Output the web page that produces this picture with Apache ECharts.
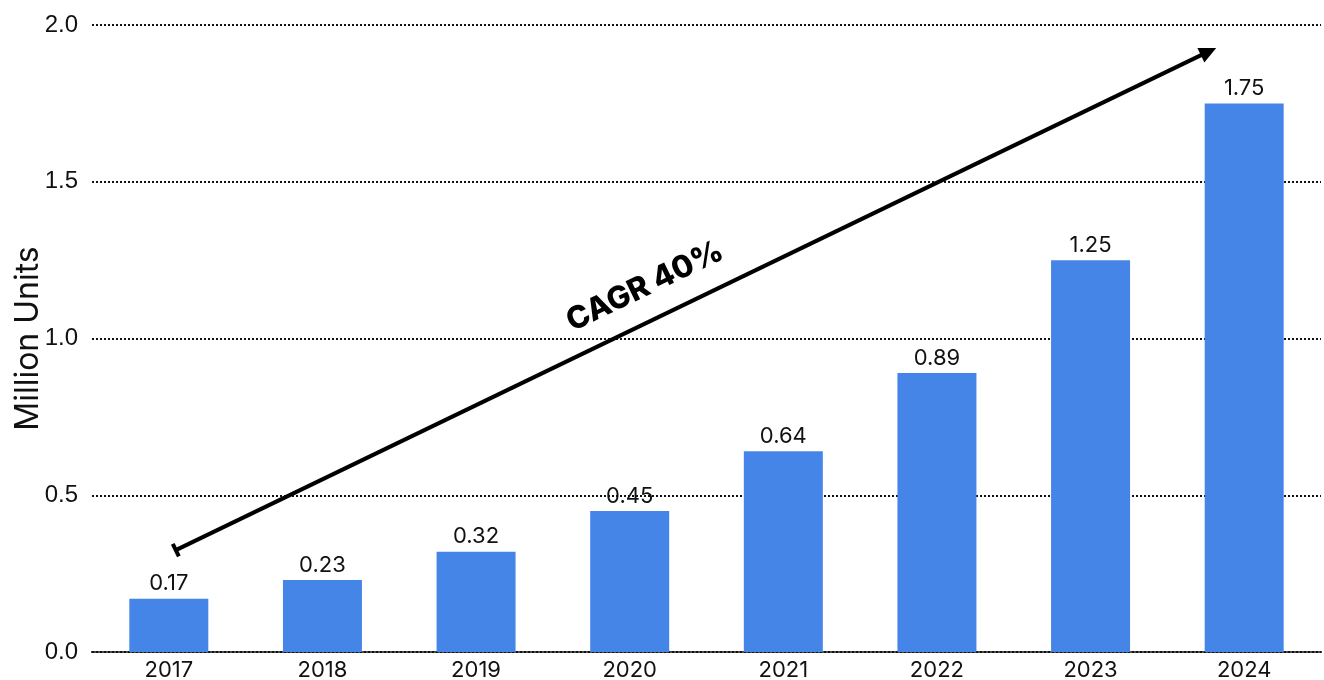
<!DOCTYPE html>
<html>
<head>
<meta charset="utf-8">
<script src="https://cdn.jsdelivr.net/npm/echarts@6/dist/echarts.min.js"></script>
<style>
  html, body { margin: 0; padding: 0; background: #fff; }
  #chart { width: 1324px; height: 680px; }
</style>
</head>
<body>
<div id="chart"></div>
<script>
// Yearly shipments, million units
const years = ['2017', '2018', '2019', '2020', '2021', '2022', '2023', '2024'];
const units = [0.17, 0.23, 0.32, 0.45, 0.64, 0.89, 1.25, 1.75];
const yTicks = [0, 0.5, 1.0, 1.5, 2.0];
const growthLabel = 'CAGR 40%';
// Trend arrow anchors: [category index, value]
const arrowFrom = [0, 0.325];
const arrowTo = [7, 1.927];

const chart = echarts.init(document.getElementById('chart'));
const dotted = { color: '#111', width: 2, type: [2, 2] };

chart.setOption({
  animation: false,
  grid: { left: 92, right: 3, top: 25, bottom: 28, containLabel: false, outerBoundsMode: 'none' },
  xAxis: {
    type: 'category',
    data: years,
    axisLine: { show: true, lineStyle: dotted },
    axisTick: { show: false },
    axisLabel: { color: '#111', fontSize: 22, fontFamily: 'Inter', margin: 7 }
  },
  yAxis: {
    type: 'value',
    min: yTicks[0],
    max: yTicks[yTicks.length - 1],
    interval: 0.5,
    name: 'Million Units',
    nameLocation: 'middle',
    nameGap: 48,
    nameMoveOverlap: false,
    nameTextStyle: { color: '#111', fontSize: 32, fontFamily: 'Inter' },
    axisLine: { show: false },
    axisTick: { show: false },
    axisLabel: {
      color: '#111', fontSize: 24, fontFamily: 'Liberation Sans', margin: 14,
      formatter: v => v.toFixed(1)
    },
    splitLine: { show: true, lineStyle: dotted }
  },
  series: [{
    type: 'bar',
    data: units,
    barWidth: 79,
    itemStyle: { color: '#4685e8' },
    label: {
      show: true, position: 'top', distance: 4,
      color: '#111', fontSize: 22, fontFamily: 'Inter',
      formatter: p => p.value.toFixed(2)
    }
  }]
});

// Trend arrow and growth annotation, positioned from data coordinates
function drawArrow() {
  const p0 = chart.convertToPixel({ seriesIndex: 0 }, arrowFrom);
  const p1 = chart.convertToPixel({ seriesIndex: 0 }, arrowTo);
  const x0 = p0[0] + 7, y0 = p0[1];
  const x1 = p1[0] - 28, y1 = p1[1];
  const dx = x1 - x0, dy = y1 - y0;
  const len = Math.sqrt(dx * dx + dy * dy);
  const ux = dx / len, uy = dy / len;
  const nx = -uy, ny = ux;
  const head = 17, hw = 8;
  const bx = x1 - ux * head, by = y1 - uy * head;
  const angle = Math.atan2(-dy, dx);
  const mx = x0 + dx * 0.465, my = y0 + dy * 0.465;
  chart.setOption({
    graphic: [
      { type: 'line', shape: { x1: x0, y1: y0, x2: bx + ux * 2, y2: by + uy * 2 },
        style: { stroke: '#000', lineWidth: 4 } },
      { type: 'line', shape: { x1: x0 + nx * 7, y1: y0 + ny * 7, x2: x0 - nx * 7, y2: y0 - ny * 7 },
        style: { stroke: '#000', lineWidth: 4 } },
      { type: 'polygon', shape: { points: [[x1, y1], [bx + nx * hw, by + ny * hw], [bx - nx * hw, by - ny * hw]] },
        style: { fill: '#000' } },
      { type: 'text', x: mx, y: my, rotation: angle, originX: 0, originY: 0,
        style: { text: growthLabel, x: 0, y: -18, align: 'center', verticalAlign: 'bottom',
                 fill: '#000', font: '800 31px Inter' } }
    ]
  });
}
drawArrow();
</script>
</body>
</html>
